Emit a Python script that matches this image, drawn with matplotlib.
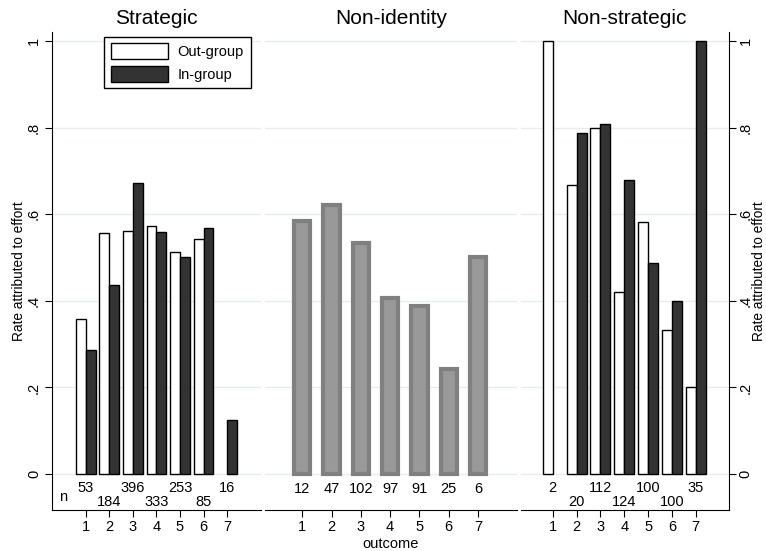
import numpy as np
import matplotlib
matplotlib.use("Agg")
import matplotlib.pyplot as plt
from matplotlib.patches import Patch

plt.rcParams['font.family'] = ['Liberation Sans', 'DejaVu Sans']

outcomes = [1, 2, 3, 4, 5, 6, 7]

# Strategic
strat_out = [0.358, 0.556, 0.561, 0.573, 0.514, 0.543, np.nan]
strat_in = [0.286, 0.436, 0.672, 0.559, 0.501, 0.568, 0.125]
strat_n = ['53', '184', '396', '333', '253', '85', '16']

# Non-identity
nonid = [0.584, 0.621, 0.533, 0.406, 0.388, 0.242, 0.501]
nonid_n = ['12', '47', '102', '97', '91', '25', '6']

# Non-strategic
nonstrat_out = [1.0, 0.667, 0.799, 0.420, 0.582, 0.333, 0.200]
nonstrat_in = [np.nan, 0.788, 0.808, 0.679, 0.487, 0.400, 1.0]
nonstrat_n = ['2', '20', '112', '124', '100', '100', '35']

titles = ['Strategic', 'Non-identity', 'Non-strategic']
yticks = [0, 0.2, 0.4, 0.6, 0.8, 1.0]
yticklabels = ['0', '.2', '.4', '.6', '.8', '1']

fig = plt.figure(figsize=(7.66, 5.51), dpi=100)
bottom, height = 0.0744, 0.8675
ax1 = fig.add_axes([0.0679, bottom, 0.2729, height])
ax2 = fig.add_axes([0.346, bottom, 0.329, height])
ax3 = fig.add_axes([0.680, bottom, 0.2715, height])

grid_col = '#e4eef0'
w = 0.42


def base(ax, title, xlim):
    ax.set_ylim(-0.083, 1.021)
    ax.set_xlim(*xlim)
    ax.set_yticks(yticks)
    ax.set_xticks(outcomes)
    ax.set_xticklabels([str(o) for o in outcomes], fontsize=10.5)
    for y in yticks:
        ax.axhline(y, color=grid_col, lw=1.0, zorder=0)
    ax.spines['top'].set_visible(False)
    ax.spines['right'].set_visible(False)
    ax.spines['left'].set_visible(False)
    ax.tick_params(axis='x', length=5, width=0.8, pad=2)
    ax.set_title(title, fontsize=15, pad=6)


def paired(ax, out, inn, nlab):
    x = np.array(outcomes)
    ax.bar(x - w / 2, out, width=w, color='white', edgecolor='black', lw=1.0, zorder=2)
    ax.bar(x + w / 2, inn, width=w, color='#333333', edgecolor='black', lw=1.0, zorder=2)
    for i, lab in enumerate(nlab):
        yy = -0.032 if i % 2 == 0 else -0.065
        ax.text(x[i], yy, lab, ha='center', va='center', fontsize=10.5)


base(ax1, titles[0], (-0.43, 8.44))
paired(ax1, strat_out, strat_in, strat_n)
ax1.text(0.03, -0.053, 'n', ha='center', va='center', fontsize=10.5)
ax1.spines['left'].set_visible(True)
ax1.set_yticklabels(yticklabels, fontsize=10.5)
ax1.tick_params(axis='y', length=5, width=0.8, pad=3, labelrotation=90)
for t in ax1.get_yticklabels():
    t.set_va('center')
ax1.set_ylabel('Rate attributed to effort', fontsize=9.8)
ax1.yaxis.set_label_coords(-0.125, 0.5)
ax1.legend(handles=[Patch(facecolor='white', edgecolor='black', label='Out-group'),
                    Patch(facecolor='#333333', edgecolor='black', label='In-group')],
           loc='upper left', bbox_to_anchor=(0.249, 0.99), borderaxespad=0,
           fontsize=10.5, frameon=True, fancybox=False, edgecolor='black',
           framealpha=1, handlelength=3.9, handleheight=1.3, handletextpad=0.7,
           borderpad=0.45, labelspacing=0.45)

base(ax2, titles[1], (-0.27, 8.33))
ax2.bar(outcomes, nonid, width=0.55, color='#999999', edgecolor='#808080', lw=3.0, zorder=2)
for i, lab in enumerate(nonid_n):
    ax2.text(outcomes[i], -0.035, lab, ha='center', va='center', fontsize=10.5)
ax2.set_yticks([])
ax2.set_xlabel('outcome', fontsize=10.5, labelpad=2)

base(ax3, titles[2], (-0.34, 8.39))
paired(ax3, nonstrat_out, nonstrat_in, nonstrat_n)
ax3.spines['right'].set_visible(True)
ax3.yaxis.tick_right()
ax3.yaxis.set_label_position('right')
ax3.set_yticklabels(yticklabels, fontsize=10.5)
ax3.tick_params(axis='y', length=5, width=0.8, pad=2, labelrotation=90)
for t in ax3.get_yticklabels():
    t.set_va('center')
ax3.set_ylabel('Rate attributed to effort', fontsize=9.8)
ax3.yaxis.set_label_coords(1.112, 0.5)

fig.savefig('out.png', dpi=100)
